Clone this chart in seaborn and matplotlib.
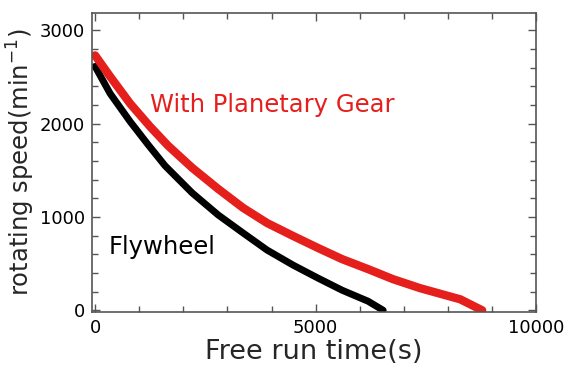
import numpy as np
import pandas as pd
import matplotlib
matplotlib.use('Agg')
import matplotlib.pyplot as plt
import seaborn as sns

# Values
gear_time = [0, 340, 794, 1247, 1655, 2200, 2789, 3356, 3900, 4490, 5057, 5601, 6190, 6757, 7370, 8277, 8776]
gear_speed = [2731, 2505, 2215, 1968, 1763, 1527, 1301, 1097, 935, 796, 667, 548, 441, 333, 237, 118, 0]
fly_time = [0, 340, 794, 1202, 1587, 2200, 2789, 3356, 3900, 4490, 5057, 5601, 6190, 6531]
fly_speed = [2613, 2323, 2022, 1774, 1548, 1258, 1022, 828, 645, 484, 344, 215, 97, 0]

x_ticks = [0, 5000, 10000]
y_ticks = [0, 1000, 2000, 3000]

df = pd.concat([
    pd.DataFrame({'time': gear_time, 'speed': gear_speed, 'series': 'With Planetary Gear'}),
    pd.DataFrame({'time': fly_time, 'speed': fly_speed, 'series': 'Flywheel'}),
])

sns.set_theme(style='ticks')
plt.rcParams['font.family'] = ['DejaVu Sans']

fig = plt.figure(figsize=(5.68, 3.69), dpi=100)
ax = fig.add_axes([0.162, 0.154, 0.782, 0.812])

red = '#e41f1c'
sns.lineplot(data=df[df.series == 'Flywheel'], x='time', y='speed', color='black',
             linewidth=5, sort=False, ax=ax, solid_capstyle='round', legend=False)
sns.lineplot(data=df[df.series == 'With Planetary Gear'], x='time', y='speed', color=red,
             linewidth=6, sort=False, ax=ax, solid_capstyle='round', legend=False)

ax.set_xlim(-70, 10000)
ax.set_ylim(-20, 3190)
ax.set_xticks(x_ticks)
ax.set_yticks(y_ticks)
ax.set_xticks(np.arange(0, 10001, 1000), minor=True)
ax.set_yticks(np.arange(0, 3101, 200), minor=True)
ax.tick_params(which='both', direction='in', top=True, right=True, color='#555555',
               labelsize=13, labelcolor='black', pad=5)
ax.tick_params(which='major', length=6, width=1)
ax.tick_params(which='minor', length=4, width=1)
for s in ax.spines.values():
    s.set_color('#555555')
    s.set_linewidth(1.2)

ax.set_xlabel('Free run time(s)', fontsize=19.5, labelpad=1)
ax.set_ylabel('rotating speed(min$^{-1}$)', fontsize=17.5, labelpad=2)

ax.text(1250, 2200, 'With Planetary Gear', color=red, fontsize=17.5, va='center')
ax.text(300, 680, 'Flywheel', color='black', fontsize=17.5, va='center')

fig.savefig('out.png', dpi=100)
